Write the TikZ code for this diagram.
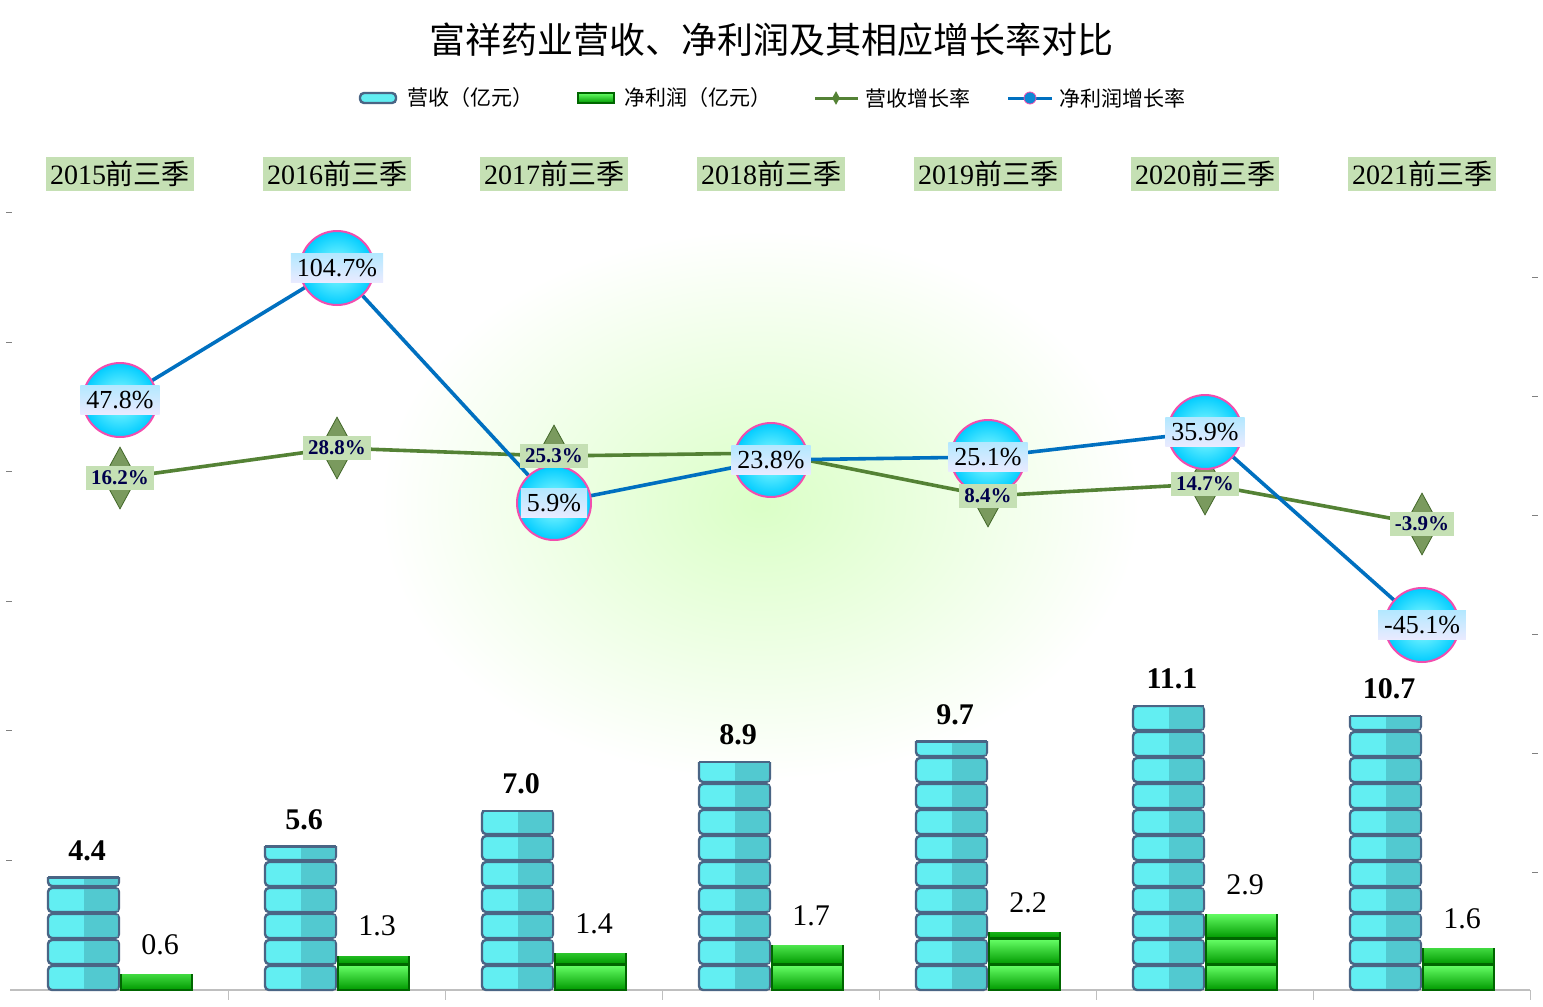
\documentclass[tikz,border=0pt]{standalone}
\usepackage{fontspec}
\setmainfont{Liberation Serif}
\newfontfamily\cjk{Noto Sans CJK SC}
\usetikzlibrary{shapes.geometric}
\definecolor{cyanb}{HTML}{62EEF2}
\definecolor{cyand}{HTML}{4FC0C8}
\definecolor{bord}{HTML}{4A6585}
\definecolor{gline}{HTML}{548235}
\definecolor{bline}{HTML}{0070C0}
\definecolor{catg}{HTML}{C5E0B4}
\definecolor{dmd}{HTML}{7A9A5E}
\tikzset{
 rblock/.style={draw=bord,line width=1.2pt,rounded corners=2pt,fill=cyanb},
 gblock/.style={draw=green!40!black,line width=0.6pt,top color=green!60!white,bottom color=green!60!black},
 catlab/.style={fill=catg,inner sep=2pt,font=\fontsize{14}{14}\selectfont},
 blab/.style={top color=blue!30!cyan!30,bottom color=blue!8!white,inner sep=3pt,font=\fontsize{13}{13}\selectfont},
 glab/.style={fill=catg,inner sep=2.5pt,font=\bfseries\fontsize{10.5}{10.5}\selectfont,text=blue!30!black},
 bmark/.style={circle,minimum size=37pt,draw=magenta!70,line width=1pt,inner color=cyan!40,outer color=cyan!80!blue},
 gmark/.style={diamond,minimum width=17pt,minimum height=31pt,inner sep=0pt,fill=dmd,draw=gline!80!black},
 vlab/.style={font=\fontsize{15}{15}\selectfont},
}
\begin{document}
\begin{tikzpicture}[x=0.5pt,y=-0.5pt]
\useasboundingbox (0,0) rectangle (1543,1007);
\fill[white] (0,0) rectangle (1543,1007);
\fill[inner color=yellow!35!green!22,outer color=white] (380,230) rectangle (1140,780);
\node[font=\cjk\fontsize{18}{18}\selectfont] (title) at (771,40) {富祥药业营收、净利润及其相应增长率对比};
% legend
\node[rblock,minimum width=18pt,minimum height=5pt,inner sep=0pt] (l1) at (378,98) {};
\node[anchor=west,font=\cjk\fontsize{10.5}{10.5}\selectfont] (l1t) at (400,98) {营收（亿元）};
\node[gblock,minimum width=18pt,minimum height=5pt,inner sep=0pt] (l2) at (596,98) {};
\node[anchor=west,font=\cjk\fontsize{10.5}{10.5}\selectfont] (l2t) at (617,98) {净利润（亿元）};
\coordinate (l3a) at (815,98); \coordinate (l3b) at (858,98);
\draw[gline,line width=1.5pt] (l3a)--(l3b);
\node[diamond,fill=gline,minimum width=4pt,minimum height=7pt,inner sep=0pt] at (836,98) {};
\node[anchor=west,font=\cjk\fontsize{10.5}{10.5}\selectfont] (l3t) at (858,98) {营收增长率};
\coordinate (l4a) at (1008,98); \coordinate (l4b) at (1052,98);
\draw[bline,line width=1.5pt] (l4a)--(l4b);
\node[circle,minimum size=6pt,inner sep=0pt,draw=magenta!70,fill=cyan!70!blue] at (1030,98) {};
\node[anchor=west,font=\cjk\fontsize{10.5}{10.5}\selectfont] (l4t) at (1052,98) {净利润增长率};
% axis
\draw[gray!50,line width=0.8pt] (10,990) -- (1530,990);
\foreach \x in {228,445,662,879,1096,1313,1530} \draw[gray!50] (\x,990)--(\x,1000);
\foreach \y in {212,342,471,601,730,860} \draw[gray] (6,\y)--(12,\y);
\foreach \y in {277,396,515,634,753,872} \draw[gray] (1532,\y)--(1538,\y);
% bars
\foreach \i/\c/\r/\n in {0/2015/4.4/0.6,1/2016/5.6/1.3,2/2017/7.0/1.4,3/2018/8.9/1.7,4/2019/9.7/2.2,5/2020/11.1/2.9,6/2021/10.7/1.6}{
 \pgfmathsetmacro{\cx}{120+217*\i}
 \pgfmathsetmacro{\top}{990-25.6*\r}
 \pgfmathsetmacro{\ntop}{990-26*\n}
 \begin{scope}
 \clip (\cx-74,\top) rectangle (\cx+1,992);
 \foreach \k in {0,...,11}{
  \pgfmathsetmacro{\yb}{990-26*\k}
  \draw[rblock] (\cx-72,\yb) rectangle (\cx-1,\yb-24);
  \fill[cyand,opacity=0.8] (\cx-36,\yb-1) rectangle (\cx-2,\yb-23);
 }
 \end{scope}
 \draw[bord,line width=1.2pt] (\cx-72,\top)--(\cx-1,\top);
 \begin{scope}
 \clip (\cx,\ntop) rectangle (\cx+74,992);
 \foreach \k in {0,1,2}{
  \pgfmathsetmacro{\yb}{990-26*\k}
  \draw[gblock] (\cx+1,\yb) rectangle (\cx+72,\yb-25);
 }
 \end{scope}
 \node[catlab] (c\i) at (\cx,174) {\c{\cjk 前三季}};
 \node[vlab,font=\bfseries\fontsize{15}{15}\selectfont] (rv\i) at (\cx-33,\top-27) {\r};
 \node[vlab] (nv\i) at (\cx+40,\ntop-30) {\n};
}
% revenue growth
\foreach \i/\y in {0/478,1/448,2/456,3/453,4/496,5/484,6/524}{
 \pgfmathsetmacro{\cx}{120+217*\i}
 \coordinate (g\i) at (\cx,\y);
}
\draw[gline,line width=1.8pt] (g0)--(g1)--(g2)--(g3)--(g4)--(g5)--(g6);
\foreach \i in {0,1,2,4,5,6} \node[gmark] (gm\i) at (g\i) {};
% net growth
\foreach \i/\y in {0/400,1/268,2/503,3/460,4/457,5/432,6/625}{
 \pgfmathsetmacro{\cx}{120+217*\i}
 \coordinate (b\i) at (\cx,\y);
}
\draw[bline,line width=1.8pt] (b0)--(b1)--(b2)--(b3)--(b4)--(b5)--(b6);
\foreach \i in {0,...,6} \node[bmark] (bm\i) at (b\i) {};
\foreach \i/\t in {0/16.2\%,1/28.8\%,2/25.3\%,4/8.4\%,5/14.7\%,6/-3.9\%} \node[glab] (gl\i) at (g\i) {\t};
\foreach \i/\t in {0/47.8\%,1/104.7\%,2/5.9\%,3/23.8\%,4/25.1\%,5/35.9\%,6/-45.1\%} \node[blab] (bl\i) at (b\i) {\t};
\end{tikzpicture}
\end{document}
